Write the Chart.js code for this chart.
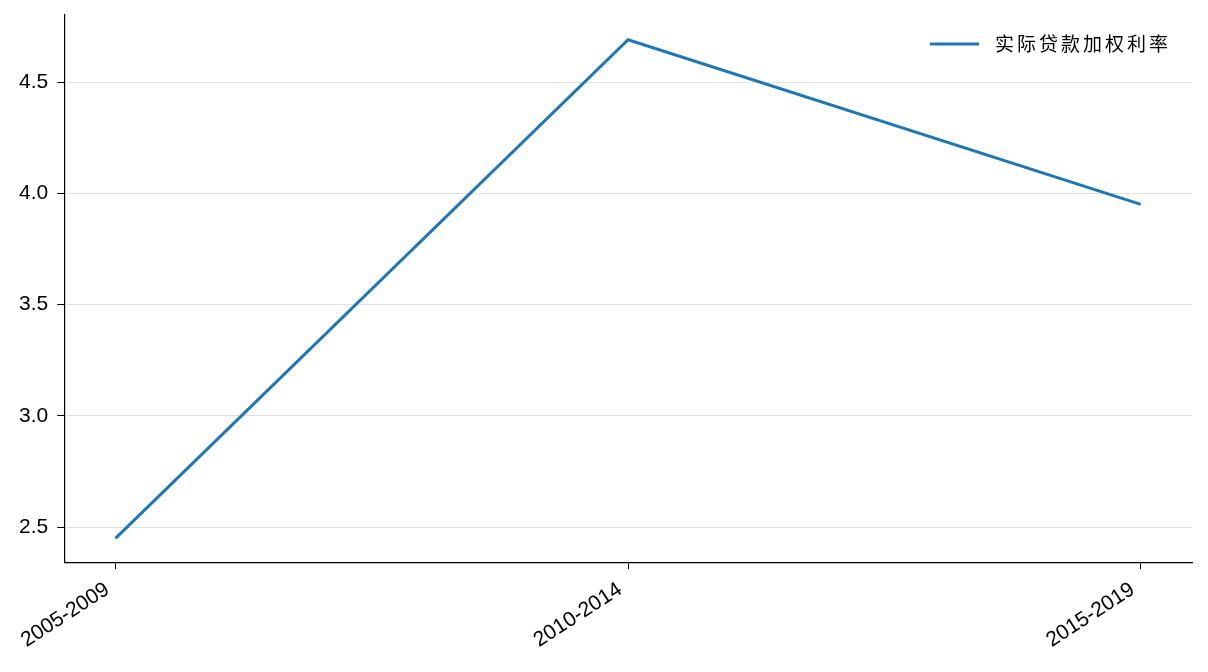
<!DOCTYPE html>
<html>
<head>
<meta charset="utf-8">
<script src="https://cdn.jsdelivr.net/npm/chart.js@4/dist/chart.umd.min.js"></script>
<style>
  html, body { margin: 0; padding: 0; background: #fff; }
  #wrap { width: 1208px; height: 672px; }
</style>
</head>
<body>
<div id="wrap"><canvas id="ctx_rate"></canvas></div>
<script>
const periods = ['2005-2009', '2010-2014', '2015-2019'];
const rateValues = [2.45, 4.69, 3.95];
const seriesName = '实际贷款加权利率';

const ctx_rate = document.getElementById('ctx_rate');
Chart.defaults.font.family = '"Liberation Sans", Arial, "Noto Sans CJK SC", sans-serif';
Chart.defaults.color = '#000';

// legend drawn inside the plot, top right, no frame
const cornerLegend = {
    id: 'cornerLegend',
    afterDraw(chart) {
        const c = chart.ctx;
        const area = chart.chartArea;
        const ds = chart.data.datasets[0];
        const y = area.top + 29;
        const right = area.right - 21;
        c.save();
        c.font = '19px "Noto Sans CJK SC", sans-serif';
        c.letterSpacing = '3px';
        c.fillStyle = '#000';
        c.textAlign = 'right';
        c.textBaseline = 'middle';
        c.fillText(ds.label, right, y);
        const w = c.measureText(ds.label).width;
        const lineEnd = right - w - 16;
        c.strokeStyle = ds.borderColor;
        c.lineWidth = 3;
        c.beginPath();
        c.moveTo(lineEnd - 49, y);
        c.lineTo(lineEnd, y);
        c.stroke();
        c.restore();
    }
};

new Chart(ctx_rate, {
    type: 'line',
    data: {
        datasets: [{
            label: seriesName,
            data: rateValues.map((v, i) => ({ x: i, y: v })),
            borderWidth: 3,
            tension: 0,
            pointRadius: 0,
            borderColor: '#1f77b4',
            backgroundColor: '#1f77b4'
        }]
    },
    options: {
        responsive: true,
        maintainAspectRatio: false,
        animation: false,
        layout: {
            padding: { left: 10, right: 16, top: 15, bottom: 11 }
        },
        scales: {
            x: {
                type: 'linear',
                min: -0.1,
                max: 2.1,
                grid: {
                    display: true,
                    drawOnChartArea: false,
                    drawTicks: true,
                    tickLength: 7,
                    tickColor: '#000'
                },
                border: { color: '#000', width: 1.2 },
                ticks: {
                    stepSize: 1,
                    includeBounds: false,
                    autoSkip: false,
                    minRotation: 33,
                    maxRotation: 33,
                    padding: 8,
                    labelOffset: -8,
                    font: { size: 21 },
                    callback: v => periods[v] || ''
                }
            },
            y: {
                min: 2.343,
                max: 4.801,
                afterFit: s => { s.paddingTop = 0; },
                grid: {
                    display: true,
                    drawOnChartArea: true,
                    drawTicks: true,
                    tickLength: 7,
                    color: '#e0e0e0',
                    tickColor: '#000',
                    lineWidth: 1
                },
                border: { color: '#000', width: 1.2 },
                ticks: {
                    stepSize: 0.5,
                    includeBounds: false,
                    padding: 9,
                    font: { size: 21 },
                    callback: v => v.toFixed(1)
                }
            }
        },
        plugins: {
            legend: { display: false },
            tooltip: { enabled: false }
        }
    },
    plugins: [cornerLegend]
});
</script>
</body>
</html>
